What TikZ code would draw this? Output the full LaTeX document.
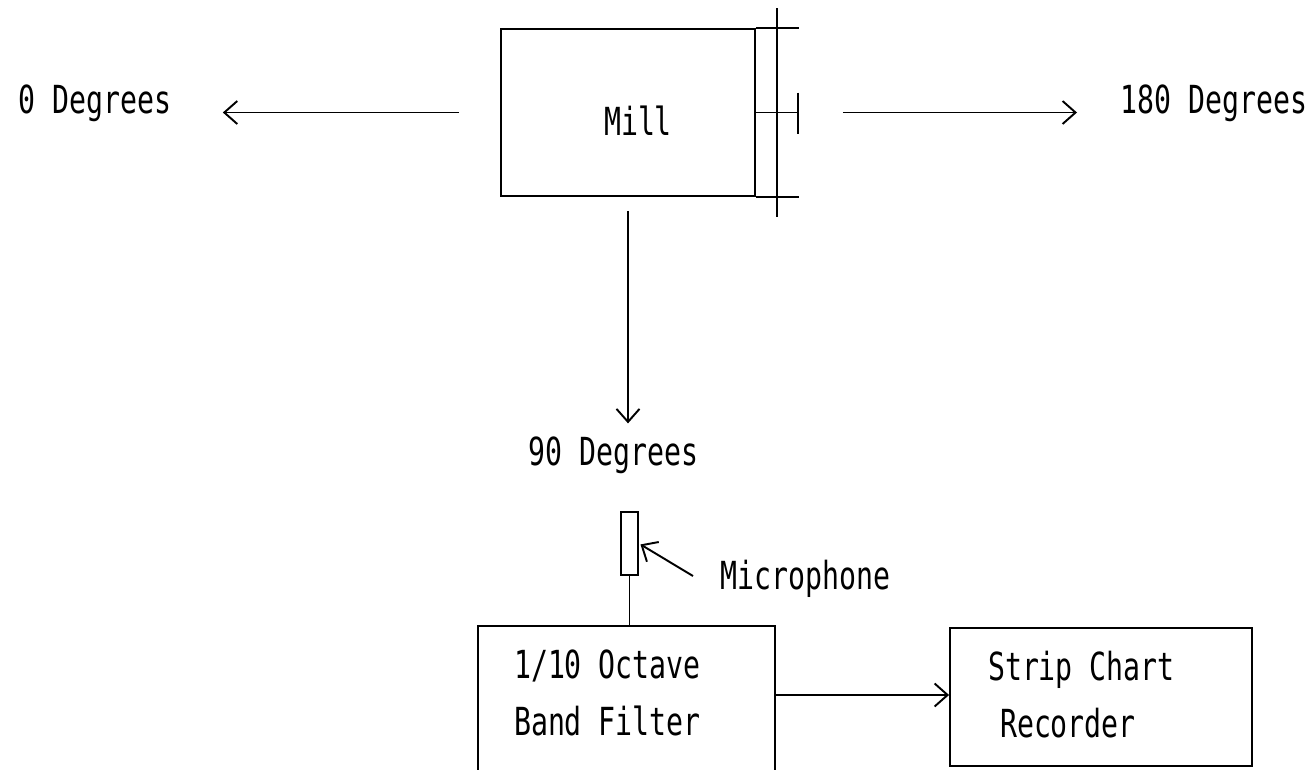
\documentclass[tikz,border=0pt]{standalone}
\usepackage{fontspec}
\setmonofont[FakeStretch=0.73]{DejaVu Sans Mono}
\usetikzlibrary{arrows.meta}

\tikzset{
  plot/.style={font=\ttfamily\fontsize{22}{32}\selectfont, inner sep=0pt},
  box/.style={draw, plot, align=flush left},
}

\begin{document}
\begin{tikzpicture}[x=0.02cm, y=-0.02cm, line width=1.1pt, >={Straight Barb[length=2.6mm,width=4.6mm]}]

        \useasboundingbox (0,0) rectangle (1315,769);
        \clip (0,0) rectangle (1315,769);

        \node[box, align=center, minimum width=5.08cm, minimum height=3.34cm, text height=0.9cm, text depth=0cm] (mill) at (628,112.5) {\hspace*{0.4cm}Mill};
        \node[plot, anchor=base west] (deg0)   at (18,113)   {0 Degrees};
        \node[plot, anchor=base west] (deg180) at (1120,113) {180 Degrees};
        \node[plot, anchor=base west] (deg90)  at (528,465)  {90 Degrees};

        \node[draw, inner sep=0pt, minimum width=0.34cm, minimum height=1.26cm] (mic) at (629.5,543.5) {};
        \node[plot, anchor=base west] (micLabel) at (720,589) {Microphone};

        \node[box, anchor=north, text width=4.5cm, inner xsep=0.72cm, text height=1.06cm, text depth=3cm] (filter) at (626.5,625) {1/10 Octave\\Band Filter};
        \node[box, anchor=north, text width=4.52cm, inner xsep=0.76cm, text height=1.06cm, text depth=1.7cm] (rec) at (1101,627) {Strip Chart\\\hspace*{0.24cm}Recorder};

        \coordinate (shaftTop) at (777,8);
        \coordinate (shaftBot) at (777,217);
        \coordinate (micTail)  at (693,576);
        \coordinate (fOut) at ([yshift=-1.4cm]filter.north east);

        \draw (mill.north east) -- ++(43,0);
        \draw (mill.south east) -- ++(43,0);
        \draw (shaftTop) -- (shaftBot);
        \draw (mill.east) -- ++(42,0) coordinate (tick);
        \draw ([yshift=0.4cm]tick) -- ([yshift=-0.42cm]tick);

        \draw[->, shorten <=0.82cm, shorten >=1cm] (mill.west) -- (mill.west -| deg0.east);
        \draw[->, shorten <=1.74cm, shorten >=0.86cm] (mill.east) -- (mill.east -| deg180.west);
        \draw[->, shorten <=0.28cm, shorten >=0.24cm] (mill.south) -- (mill.south |- deg90.north);

        \draw[->, shorten >=1pt] (micTail) -- (mic.east);
        \draw (mic.south) -- (mic.south |- filter.north);

        \draw[->] (fOut) -- (fOut -| rec.west);

\end{tikzpicture}
\end{document}
